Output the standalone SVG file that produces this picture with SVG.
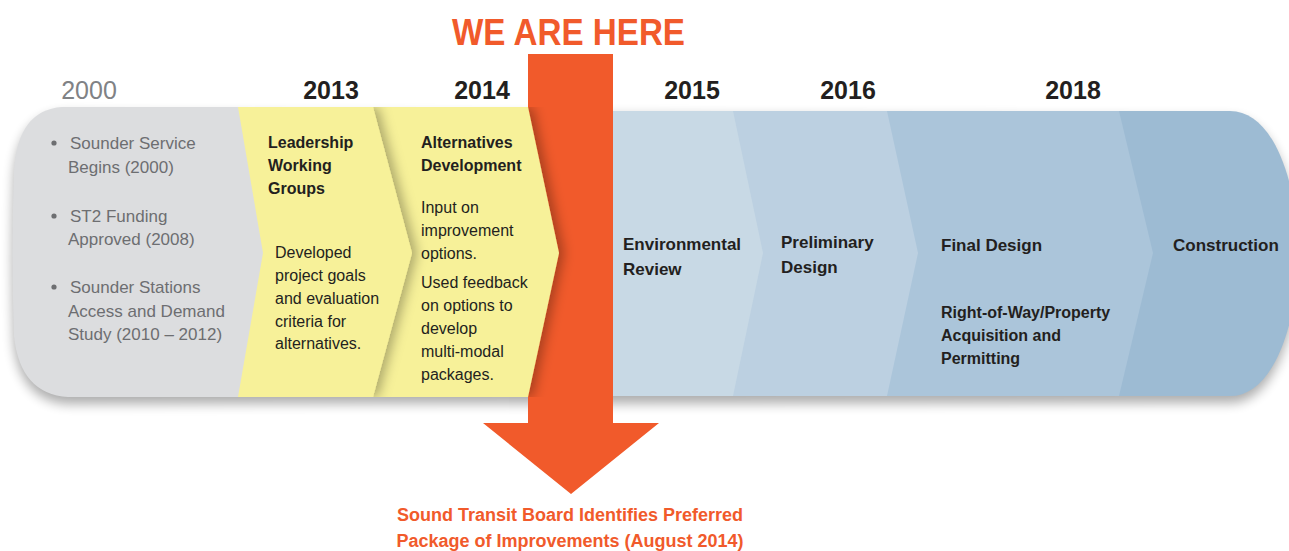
<svg xmlns="http://www.w3.org/2000/svg" width="1289" height="551" viewBox="0 0 1289 551">
  <style>
    .year { font-family: "Liberation Sans", Arial, sans-serif; font-size: 25px; font-weight: bold; fill: #231f20; text-anchor: middle; }
    .year-past { font-weight: normal; fill: #808285; }
    .past { font-family: "Liberation Sans", Arial, sans-serif; font-size: 17px; fill: #6d6e71; }
    .head { font-family: "Liberation Sans", Arial, sans-serif; font-size: 16px; font-weight: bold; fill: #231f20; }
    .body { font-family: "Liberation Sans", Arial, sans-serif; font-size: 16px; fill: #231f20; }
    .phase { font-family: "Liberation Sans", Arial, sans-serif; font-size: 17px; font-weight: bold; fill: #231f20; }
    .sub { font-family: "Liberation Sans", Arial, sans-serif; font-size: 16px; font-weight: bold; fill: #231f20; }
    .callout { font-family: "Liberation Sans", Arial, sans-serif; font-weight: bold; fill: #f15a2b; }
  </style>
  <defs>
    <filter id="bandBlur" x="-5%" y="-20%" width="110%" height="140%">
      <feGaussianBlur stdDeviation="6"/>
    </filter>
    <filter id="edgeShadow" x="-10%" y="-10%" width="140%" height="120%">
      <feDropShadow dx="5" dy="0" stdDeviation="6" flood-color="#000" flood-opacity="0.3"/>
    </filter>
    <clipPath id="bandClip">
      <rect x="0" y="107" width="1289" height="290"/>
    </clipPath>
  </defs>

  <rect width="1289" height="551" fill="#ffffff"/>

  <!-- soft shadow under the whole timeline band -->
  <path d="M 62 107 L 1230 111 C 1270 111 1295 170 1300 253 C 1295 336 1270 396 1230 396 L 68 397 Q 20 394 14 336 Q 11 253 14 170 Q 18 110 62 107 Z"
        fill="#000" opacity="0.32" transform="translate(0,7)" filter="url(#bandBlur)"/>

  <!-- year labels -->
  <g id="years">
    <text class="year year-past" x="89" y="99">2000</text>
    <text class="year" x="331" y="99">2013</text>
    <text class="year" x="482" y="99">2014</text>
    <text class="year" x="692" y="99">2015</text>
    <text class="year" x="848" y="99">2016</text>
    <text class="year" x="1073" y="99">2018</text>
  </g>

  <!-- future phases, drawn right to left so each chevron tip sits on the next phase -->
  <g id="construction">
    <path d="M 1100 111 L 1230 111 C 1270 111 1295 170 1300 253 C 1295 336 1270 396 1230 396 L 1100 396 Z" fill="#9dbbd3"/>
    <text class="phase" x="1173" y="251">Construction</text>
  </g>
  <g id="final-design">
    <path d="M 860 111 L 1119 111 L 1153 253 L 1119 396 L 860 396 Z" fill="#abc5da"/>
    <text class="phase" x="941" y="251">Final Design</text>
    <text class="sub" x="941" y="318">Right-of-Way/Property</text>
    <text class="sub" x="941" y="341">Acquisition and</text>
    <text class="sub" x="941" y="364">Permitting</text>
  </g>
  <g id="preliminary-design">
    <path d="M 700 111 L 887 111 L 918 253 L 887 396 L 700 396 Z" fill="#bcd0e1"/>
    <text class="phase" x="781" y="248">Preliminary</text>
    <text class="phase" x="781" y="273">Design</text>
  </g>
  <g id="environmental-review">
    <path d="M 560 111 L 733 111 L 763 253 L 733 396 L 560 396 Z" fill="#c8d9e5"/>
    <text class="phase" x="623" y="250">Environmental</text>
    <text class="phase" x="623" y="275">Review</text>
  </g>

  <!-- current-position marker -->
  <g id="we-are-here">
    <text class="callout" x="452" y="45" font-size="36" textLength="233" lengthAdjust="spacingAndGlyphs">WE ARE HERE</text>
    <path d="M 528 54 L 613 54 L 613 423 L 659 423 L 571 494 L 483 423 L 528 423 Z" fill="#f15a2b"/>
    <text class="callout" x="570" y="521" font-size="18" text-anchor="middle">Sound Transit Board Identifies Preferred</text>
    <text class="callout" x="570" y="547" font-size="18" text-anchor="middle">Package of Improvements (August 2014)</text>
  </g>

  <!-- 2014 phase -->
  <g id="alternatives-development">
    <g clip-path="url(#bandClip)">
      <path d="M 360 107 L 528 107 L 559 253 L 528 397 L 360 397 Z" fill="#f7f199" filter="url(#edgeShadow)"/>
    </g>
    <text class="head" x="421" y="148">Alternatives</text>
    <text class="head" x="421" y="171">Development</text>
    <text class="body" x="421" y="213">Input on</text>
    <text class="body" x="421" y="236">improvement</text>
    <text class="body" x="421" y="259">options.</text>
    <text class="body" x="421" y="288">Used feedback</text>
    <text class="body" x="421" y="311">on options to</text>
    <text class="body" x="421" y="334">develop</text>
    <text class="body" x="421" y="357">multi-modal</text>
    <text class="body" x="421" y="380">packages.</text>
  </g>

  <!-- 2013 phase -->
  <g id="leadership-working-groups">
    <g clip-path="url(#bandClip)">
      <path d="M 230 107 L 373 107 L 412 253 L 373 397 L 230 397 Z" fill="#f7f199" filter="url(#edgeShadow)"/>
    </g>
    <text class="head" x="268" y="148">Leadership</text>
    <text class="head" x="268" y="171">Working</text>
    <text class="head" x="268" y="194">Groups</text>
    <text class="body" x="275" y="258">Developed</text>
    <text class="body" x="275" y="281">project goals</text>
    <text class="body" x="275" y="304">and evaluation</text>
    <text class="body" x="275" y="327">criteria for</text>
    <text class="body" x="275" y="349">alternatives.</text>
  </g>

  <!-- completed milestones -->
  <g id="past-milestones">
    <path d="M 62 107 L 238 107 L 263 253 L 238 397 L 68 397 Q 20 394 14 336 Q 11 253 14 170 Q 18 110 62 107 Z" fill="#dcdddf"/>
    <circle cx="54" cy="143" r="2.6" fill="#6d6e71"/>
    <text class="past" x="70" y="149">Sounder Service</text>
    <text class="past" x="68" y="173">Begins (2000)</text>
    <circle cx="54" cy="216" r="2.6" fill="#6d6e71"/>
    <text class="past" x="70" y="222">ST2 Funding</text>
    <text class="past" x="68" y="245">Approved (2008)</text>
    <circle cx="54" cy="287" r="2.6" fill="#6d6e71"/>
    <text class="past" x="70" y="293">Sounder Stations</text>
    <text class="past" x="68" y="317">Access and Demand</text>
    <text class="past" x="68" y="340">Study (2010 – 2012)</text>
  </g>
</svg>
